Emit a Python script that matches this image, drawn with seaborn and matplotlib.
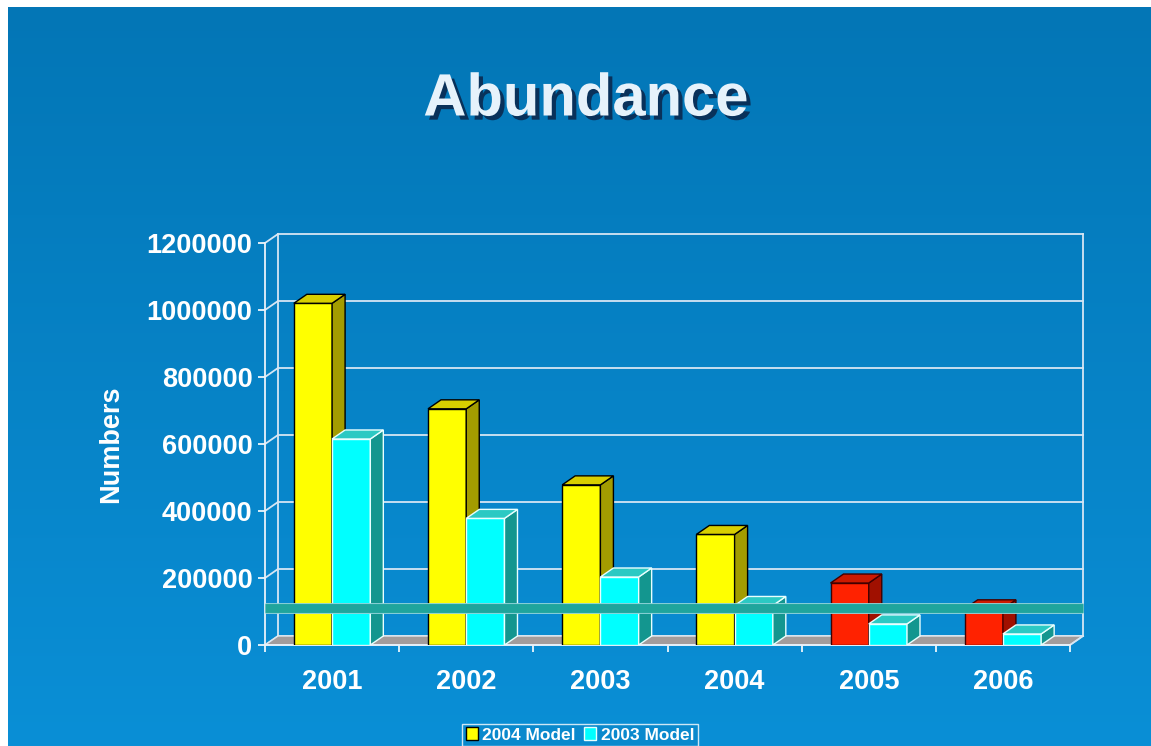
import numpy as np
import pandas as pd
import matplotlib
matplotlib.use("Agg")
import matplotlib.pyplot as plt
import seaborn as sns
from matplotlib.patches import Polygon, Patch
import matplotlib.patheffects as pe

# data
years = ["2001", "2002", "2003", "2004", "2005", "2006"]
model_2004 = [1020000, 705000, 478000, 330000, 185000, 108000]
model_2003 = [615000, 378000, 203000, 118000, 63000, 33000]
threshold = 110000
yticks = [0, 200000, 400000, 600000, 800000, 1000000, 1200000]

plt.rcParams["font.family"] = ["Liberation Sans", "DejaVu Sans"]
plt.rcParams["font.weight"] = "bold"

df = pd.DataFrame({
    "year": years * 2,
    "model": ["2004 Model"] * 6 + ["2003 Model"] * 6,
    "value": model_2004 + model_2003,
})

W, H = 1151, 746
fig = plt.figure(figsize=(W / 100, H / 100), dpi=100, facecolor="white")

# slide background (gradient blue, white margin top/left)
bg = fig.add_axes([8 / W, 0, 1 - 8 / W, (H - 7) / H])
grad = np.linspace(0, 1, 256).reshape(-1, 1)
cmap = matplotlib.colors.LinearSegmentedColormap.from_list("slide", ["#0376b6", "#0a8fd6"])
bg.imshow(grad, aspect="auto", cmap=cmap, extent=[0, 1, 0, 1], origin="upper")
bg.axis("off")

left, bottom, right, top = 265, 645, 1070, 243
ax = fig.add_axes([left / W, (H - bottom) / H, (right - left) / W, (bottom - top) / H])
ax.set_facecolor("none")

sns.barplot(data=df, x="year", y="value", hue="model",
            palette={"2004 Model": "#ffff00", "2003 Model": "#00ffff"},
            width=0.57, gap=0, legend=False, ax=ax, zorder=5)
ax.set_xlim(-0.5, 5.5)
ax.set_ylim(0, 1200000)

# pixel -> data depth offset for the 3D look
sx = 6 / ax.bbox.width
sy = 1200000 / ax.bbox.height
dx, dy = 13 * sx, 9 * sy

# back wall, floor, left wall
floor = Polygon([(-0.5, 0), (5.5, 0), (5.5 + dx, dy), (-0.5 + dx, dy)],
                closed=True, facecolor="#a29c9c", edgecolor="#dfe8f0", lw=1, zorder=2, clip_on=False)
ax.add_patch(floor)
grid_c = "#d6e6f4"
for v in yticks:
    ax.plot([-0.5 + dx, 5.5 + dx], [v + dy, v + dy], color=grid_c, lw=1.3, zorder=1, clip_on=False)
    ax.plot([-0.5, -0.5 + dx], [v, v + dy], color=grid_c, lw=1.3, zorder=1, clip_on=False)
ax.plot([-0.5 + dx, -0.5 + dx], [dy, 1200000 + dy], color=grid_c, lw=1.3, zorder=1, clip_on=False)
ax.plot([5.5 + dx, 5.5 + dx], [dy, 1200000 + dy], color=grid_c, lw=1.3, zorder=1, clip_on=False)
ax.plot([5.5, 5.5 + dx], [0, dy], color=grid_c, lw=1.3, zorder=3, clip_on=False)

styles = {
    "yellow": ("#ffff00", "#a39c00", "#d8cf00", "black"),
    "red": ("#ff2200", "#a01000", "#cc1a00", "#400000"),
    "cyan": ("#00ffff", "#13968f", "#2bc9c3", "#e8ffff"),
}
for ci, cont in enumerate(ax.containers):
    for i, bar in enumerate(cont.patches):
        if ci == 0:
            key = "red" if years[i] in ("2005", "2006") else "yellow"
        else:
            key = "cyan"
        front, side, topc, edge = styles[key]
        x, w, h = bar.get_x(), bar.get_width(), bar.get_height()
        z = 5 + ci + i * 2
        bar.set_facecolor(front)
        bar.set_edgecolor(edge)
        bar.set_linewidth(1)
        bar.set_zorder(z)
        ax.add_patch(Polygon([(x + w, 0), (x + w + dx, dy), (x + w + dx, h + dy), (x + w, h)],
                             closed=True, facecolor=side, edgecolor=edge, lw=1, zorder=z))
        ax.add_patch(Polygon([(x, h), (x + dx, h + dy), (x + w + dx, h + dy), (x + w, h)],
                             closed=True, facecolor=topc, edgecolor=edge, lw=1, zorder=z))

# threshold line
ax.plot([-0.5, 5.5 + dx], [threshold, threshold], color="#1fa59c", lw=6.4, zorder=40,
        solid_capstyle="butt", clip_on=False,
        path_effects=[pe.Stroke(linewidth=7.8, foreground="#8fd3d8"), pe.Normal()])

for s in ["top", "right"]:
    ax.spines[s].set_visible(False)
for s in ["left", "bottom"]:
    ax.spines[s].set_color("#e8f2fa")
    ax.spines[s].set_linewidth(1.3)
    ax.spines[s].set_zorder(3)

ax.set_yticks(yticks)
ax.set_yticklabels([str(v) for v in yticks])
ax.set_xticks(range(6))
ax.set_xticklabels(years)
ax.set_xticks([i - 0.5 for i in range(7)], minor=True)
ax.tick_params(axis="y", colors="white", length=5, width=1.2, labelsize=19.5, pad=4)
ax.tick_params(axis="x", which="major", length=0, colors="white", labelsize=19.5, pad=17)
ax.tick_params(axis="x", which="minor", length=5, width=1.2, color="white")
for lab in ax.get_xticklabels() + ax.get_yticklabels():
    lab.set_fontweight("bold")
ax.set_xlabel("")
ax.set_ylabel("Numbers", color="white", fontsize=19.5, fontweight="bold", labelpad=16)

fig.text(586 / W, 1 - 100 / H, "Abundance", ha="center", va="center", fontsize=43,
         fontweight="bold", color="#e6f2fb",
         path_effects=[pe.withSimplePatchShadow(offset=(3, -3), shadow_rgbFace="#0a2a50", alpha=0.9)])

handles = [Patch(facecolor="#ffff00", edgecolor="black", label="2004 Model"),
           Patch(facecolor="#00ffff", edgecolor="#e8ffff", label="2003 Model")]
leg = fig.legend(handles=handles, loc="upper center", bbox_to_anchor=(580 / W, 1 - 724 / H),
                 ncol=2, frameon=True, fancybox=False, handlelength=0.7,
                 handleheight=0.7, handletextpad=0.25, columnspacing=0.5, borderpad=0.2,
                 borderaxespad=0, labelcolor="white", prop={"weight": "bold", "size": 12.5})
leg.get_frame().set_facecolor("#0a88cc")
leg.get_frame().set_edgecolor("white")
leg.get_frame().set_linewidth(1)

fig.savefig("out.png", dpi=100, facecolor=fig.get_facecolor())
